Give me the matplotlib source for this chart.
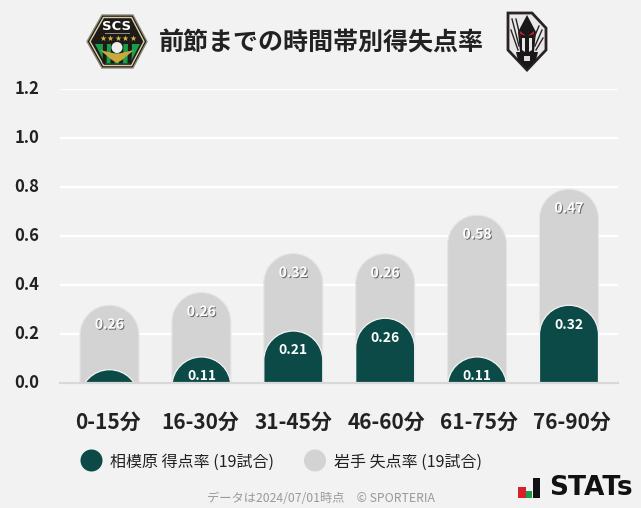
import numpy as np
import matplotlib
matplotlib.use("Agg")
import matplotlib.pyplot as plt
import matplotlib.patheffects as pe
from matplotlib.path import Path
from matplotlib.patches import PathPatch, Polygon, Circle, Ellipse, Rectangle
from matplotlib.transforms import ScaledTranslation

plt.rcParams['font.family'] = ['Noto Sans CJK JP', 'DejaVu Sans']

categories = ['0-15分', '16-30分', '31-45分', '46-60分', '61-75分', '76-90分']
home_values = [0.053, 0.105, 0.211, 0.263, 0.105, 0.316]
away_values = [0.263, 0.263, 0.316, 0.263, 0.579, 0.474]
home_labels = ['', '0.11', '0.21', '0.26', '0.11', '0.32']
away_labels = ['0.26', '0.26', '0.32', '0.26', '0.58', '0.47']
y_ticks = [0.0, 0.2, 0.4, 0.6, 0.8, 1.0, 1.2]
title = '前節までの時間帯別得失点率'
legend_home = '相模原 得点率 (19試合)'
legend_away = '岩手 失点率 (19試合)'
footer = 'データは2024/07/01時点　© SPORTERIA'

W, H = 641, 508
BG = '#f2f2f2'
DARK = '#0b4a47'
GREY = '#d3d3d3'
TXT = '#222222'

fig = plt.figure(figsize=(W / 100, H / 100), dpi=100, facecolor=BG)
L, R, T, B = 60, 618, 88.7, 382.7
X0, X1 = -0.5386, 5.5333
ax = fig.add_axes([L / W, 1 - B / H, (R - L) / W, (B - T) / H], facecolor=BG)
ax.set_xlim(X0, X1)
ax.set_ylim(0, 1.2)
for s in ax.spines.values():
    s.set_visible(False)
ax.spines['bottom'].set_visible(True)
ax.spines['bottom'].set_color('#d8d8d8')
ax.spines['bottom'].set_linewidth(1.6)
ax.spines['bottom'].set_zorder(6)
ax.set_axisbelow(True)
ax.yaxis.grid(True, color='white', linewidth=1.6)
ax.set_yticks(y_ticks)
ax.set_yticklabels([f'{v:.1f}' for v in y_ticks], fontsize=12, fontweight='bold', color=TXT,
                   va='center')
ax.set_xticks(range(len(categories)))
ax.set_xticklabels(categories, fontsize=15, fontweight='bold', color=TXT)
ax.tick_params(length=0)
ax.tick_params(axis='y', pad=15)
ax.tick_params(axis='x', pad=21)
# the reference's category labels are spaced slightly wider than its bars
for lab, dx in zip(ax.get_xticklabels(), [-1.8, -0.8, 0.0, 1.0, 2.0, 2.8]):
    lab.set_transform(lab.get_transform() + ScaledTranslation(dx / 100, 0, fig.dpi_scale_trans))

BAR_W = 59 / ((R - L) / (X1 - X0))
RY = 29.5 / ((B - T) / 1.2)
K = 0.5523


def rounded(x, top):
    l, r = x - BAR_W / 2, x + BAR_W / 2
    rx = BAR_W / 2
    verts = [(l, -0.2), (l, top - RY),
             (l, top - RY + K * RY), (x - K * rx, top), (x, top),
             (x + K * rx, top), (r, top - RY + K * RY), (r, top - RY),
             (r, -0.2), (l, -0.2)]
    codes = [Path.MOVETO, Path.LINETO,
             Path.CURVE4, Path.CURVE4, Path.CURVE4,
             Path.CURVE4, Path.CURVE4, Path.CURVE4,
             Path.LINETO, Path.CLOSEPOLY]
    return Path(verts, codes)


shadow = [pe.withSimplePatchShadow(offset=(0.7, -0.7), shadow_rgbFace='#222222', alpha=0.6)]
for i, (h, a) in enumerate(zip(home_values, away_values)):
    ax.add_patch(PathPatch(rounded(i, h + a), fc=GREY, ec='#e6e6e6', lw=0.8, zorder=3))
    ax.add_patch(PathPatch(rounded(i, h), fc=DARK, ec='#f4f4f4', lw=0.9, zorder=4))
    ax.annotate(away_labels[i], (i, h + a), xytext=(0, -14), textcoords='offset points',
                ha='center', va='center', fontsize=10, fontweight='bold', color='white',
                zorder=5, path_effects=shadow)
    if home_labels[i]:
        ax.annotate(home_labels[i], (i, h), xytext=(0, -14), textcoords='offset points',
                    ha='center', va='center', fontsize=10, fontweight='bold', color='white',
                    zorder=5, annotation_clip=False)

# overlay in pixel coordinates
ov = fig.add_axes([0, 0, 1, 1], facecolor='none')
ov.set_xlim(0, W)
ov.set_ylim(H, 0)
ov.axis('off')

ov.text(321, 43, title, fontsize=18, fontweight='bold', color=TXT, ha='center', va='center')

# legend
ov.add_patch(Ellipse((91.5, 460.5), 22, 22, fc=DARK, ec='none'))
ov.text(110, 462, legend_home, fontsize=11.5, color=TXT, ha='left', va='center')
ov.add_patch(Ellipse((315, 460.5), 22, 22, fc=GREY, ec='none'))
ov.text(334, 462, legend_away, fontsize=11.5, color=TXT, ha='left', va='center')

# footer
ov.text(320.5, 498, footer, fontsize=8.8, color='#999999', ha='center', va='center')

# STATs logo
ov.add_patch(Rectangle((518, 487), 7.5, 10.5, fc='#d6202a', ec='none'))
ov.add_patch(Rectangle((526, 490.5), 6, 7, fc='#1a9e4b', ec='none'))
ov.add_patch(Rectangle((533, 478), 7, 19.5, fc='#111111', ec='none'))
ov.text(549, 488, 'STATs', fontsize=19, fontweight='bold', color='#111111', ha='left',
        va='center', family='DejaVu Sans')

# left emblem
ov.add_patch(Polygon([(87, 41.5), (102, 15), (133, 15), (147, 41.5), (133, 68), (102, 68)],
                     fc='#1d1a17', ec='#8f8a78', lw=1))
ov.add_patch(Polygon([(90, 41.5), (103.5, 17.5), (131.5, 17.5), (144, 41.5), (131.5, 65.5), (103.5, 65.5)],
                     fc='none', ec='#d9cfa2', lw=1))
ov.add_patch(Polygon([(95, 44), (140, 44), (130, 63.5), (105, 63.5)], fc='#1a9e4b', ec='none'))
for sx in (103, 111, 119.5, 128):
    ov.add_patch(Polygon([(sx, 44), (sx + 4, 44), (sx + 3.5, 63.5), (sx - 0.5, 63.5)], fc='#1d1a17', ec='none'))
ov.text(117, 26, 'SCS', fontsize=9.5, fontweight='bold', color='white', ha='center', va='center',
        family='DejaVu Sans')
ov.add_patch(Rectangle((105, 32.5), 25, 1.2, fc='white', ec='none', alpha=0.5))
ov.scatter([102.5, 110, 117.5, 125, 132.5], [38] * 5, marker='*', s=20, c='#d9b84a', linewidths=0)
ov.add_patch(Polygon([(100, 50), (117, 54), (134, 50), (122, 60), (117, 63), (112, 60)], fc='#c9a93e', ec='none'))
ov.add_patch(Circle((117, 47.5), 5.5, fc='#eeeeee', ec='none'))

# right emblem
ov.add_patch(Polygon([(508, 13), (532, 13), (546, 28), (546, 50), (527, 70), (508, 50)],
                     fc='#e8e8e8', ec='#2a2224', lw=2))
for x0, x1, y0, y1 in ((512, 519, 19, 46), (516, 521, 19, 40), (542, 535, 30, 46), (539, 533, 26, 40),
                       (511, 518, 30, 50), (543, 536, 38, 50)):
    ov.plot([x0, x1], [y0, y1], color='#2a2224', lw=1)
ov.add_patch(Polygon([(527, 15), (536, 32), (534, 52), (520, 52), (518, 32)], fc='#1a1718', ec='none'))
ov.add_patch(Polygon([(516, 52), (538, 52), (536, 60), (527, 69), (518, 60)], fc='#1a1718', ec='none'))
ov.add_patch(Polygon([(520, 34), (526, 36), (520, 31)], fc='#c8202c', ec='none'))
ov.add_patch(Polygon([(534, 34), (528, 36), (534, 31)], fc='#c8202c', ec='none'))
ov.add_patch(Polygon([(522, 38), (525, 38), (525, 52), (522, 50)], fc='#e8e8e8', ec='none'))
ov.add_patch(Polygon([(529, 38), (532, 38), (532, 50), (529, 52)], fc='#e8e8e8', ec='none'))
ov.add_patch(Rectangle((524, 56), 6, 5, fc='#dddddd', ec='none'))

fig.savefig('out.png', dpi=100, facecolor=BG)
